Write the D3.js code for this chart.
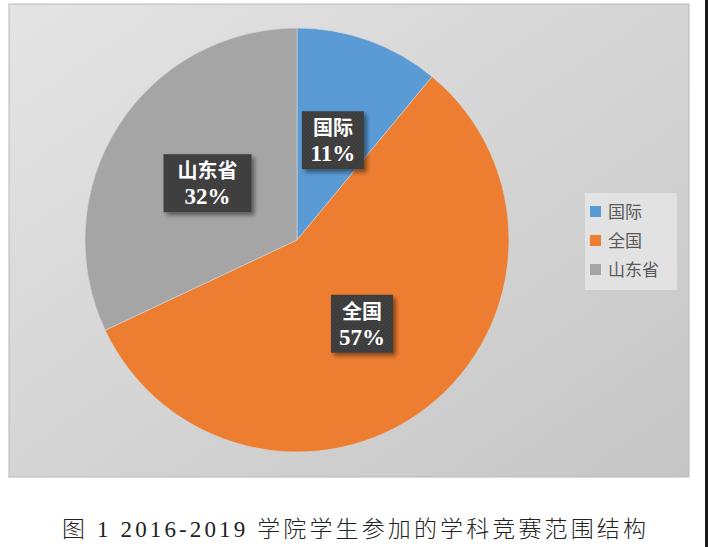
<!DOCTYPE html>
<html>
<head>
<meta charset="utf-8">
<script src="https://cdn.jsdelivr.net/npm/d3@7"></script>
<style>
  body { margin: 0; background: #fff; }
  svg { display: block; }
</style>
</head>
<body>
<svg id="chart" width="708" height="547"></svg>
<script>
// chart values
var categories = ["国际", "全国", "山东省"];
var shares = [11, 57, 32];
var colors = ["#5b9bd5", "#ed7d31", "#a5a5a5"];
var caption = "图 1 2016-2019 学院学生参加的学科竞赛范围结构";

var svg = d3.select("#chart");
var defs = svg.append("defs");

var bg = defs.append("linearGradient").attr("id", "bg")
  .attr("x1", "0").attr("y1", "0").attr("x2", "1").attr("y2", "1");
bg.append("stop").attr("offset", "0").attr("stop-color", "#e4e4e4");
bg.append("stop").attr("offset", "1").attr("stop-color", "#c6c6c6");

var pat = defs.append("pattern").attr("id", "dots")
  .attr("width", 4).attr("height", 4).attr("patternUnits", "userSpaceOnUse");
pat.append("rect").attr("width", 4).attr("height", 4).attr("fill", "#3b3b3b");
pat.append("circle").attr("cx", 1).attr("cy", 1).attr("r", 0.8).attr("fill", "#4d4d4d");
pat.append("circle").attr("cx", 3).attr("cy", 3).attr("r", 0.8).attr("fill", "#4d4d4d");

var sh = defs.append("filter").attr("id", "shadow")
  .attr("x", "-20%").attr("y", "-20%").attr("width", "150%").attr("height", "150%");
sh.append("feDropShadow").attr("dx", 3).attr("dy", 3).attr("stdDeviation", 2)
  .attr("flood-color", "#000").attr("flood-opacity", 0.45);

// panel
svg.append("rect").attr("x", 9).attr("y", 4).attr("width", 680).attr("height", 473)
  .attr("fill", "url(#bg)").attr("stroke", "#b8b8b8").attr("stroke-width", 1);
svg.append("rect").attr("x", 705).attr("y", 0).attr("width", 3).attr("height", 547).attr("fill", "#1a1a1a");

var cx = 297, cy = 240, r = 212;
var pie = d3.pie().sort(null).value(function(d) { return d; });
var arc = d3.arc().innerRadius(0).outerRadius(r);
var arcs = pie(shares);

var g = svg.append("g").attr("transform", "translate(" + cx + "," + cy + ")");
g.selectAll("path").data(arcs).enter().append("path")
  .attr("d", arc)
  .attr("fill", function(d, i) { return colors[i]; })
  .attr("stroke", "#d6d6d6").attr("stroke-width", 0.6);

// data labels
var lab = g.selectAll("g.lab").data(arcs).enter().append("g")
  .attr("class", "lab")
  .attr("transform", function(d) {
    var c = arc.centroid(d);
    return "translate(" + c[0] + "," + c[1] + ")";
  });
lab.append("rect")
  .attr("x", function(d, i) { return i == 2 ? -44 : -31; })
  .attr("width", function(d, i) { return i == 2 ? 88 : 62; })
  .attr("y", -29).attr("height", 58)
  .attr("fill", "url(#dots)")
  .attr("filter", "url(#shadow)");
lab.append("text")
  .attr("text-anchor", "middle").attr("y", -5)
  .attr("font-family", "'Noto Sans CJK SC', sans-serif")
  .attr("font-weight", "bold").attr("font-size", 20).attr("fill", "#fff")
  .text(function(d, i) { return categories[i]; });
lab.append("text")
  .attr("text-anchor", "middle").attr("y", 21)
  .attr("font-family", "'Liberation Serif', serif")
  .attr("font-weight", "bold")
  .attr("font-size", 23).attr("fill", "#fff")
  .text(function(d, i) { return shares[i] + "%"; });

// legend
var lg = svg.append("g").attr("transform", "translate(585,193)");
lg.append("rect").attr("width", 92).attr("height", 97)
  .attr("fill", "#e8e8e8").attr("opacity", 0.75);
var item = lg.selectAll("g.item").data(categories).enter().append("g")
  .attr("class", "item")
  .attr("transform", function(d, i) { return "translate(0," + (19 + i * 29) + ")"; });
item.append("rect").attr("x", 5).attr("y", -6).attr("width", 11).attr("height", 11)
  .attr("fill", function(d, i) { return colors[i]; });
item.append("text").attr("x", 23).attr("y", 6)
  .attr("font-family", "'Noto Sans CJK SC', sans-serif")
  .attr("font-size", 17).attr("fill", "#595959")
  .text(function(d) { return d; });

// caption
svg.append("text").attr("x", 354).attr("y", 537).attr("text-anchor", "middle")
  .attr("font-family", "'Liberation Serif', 'Noto Sans CJK SC', serif").attr("font-weight", 300)
  .attr("font-size", 23).attr("fill", "#222")
  .attr("textLength", 584).attr("lengthAdjust", "spacing")
  .text(caption);
</script>
</body>
</html>
